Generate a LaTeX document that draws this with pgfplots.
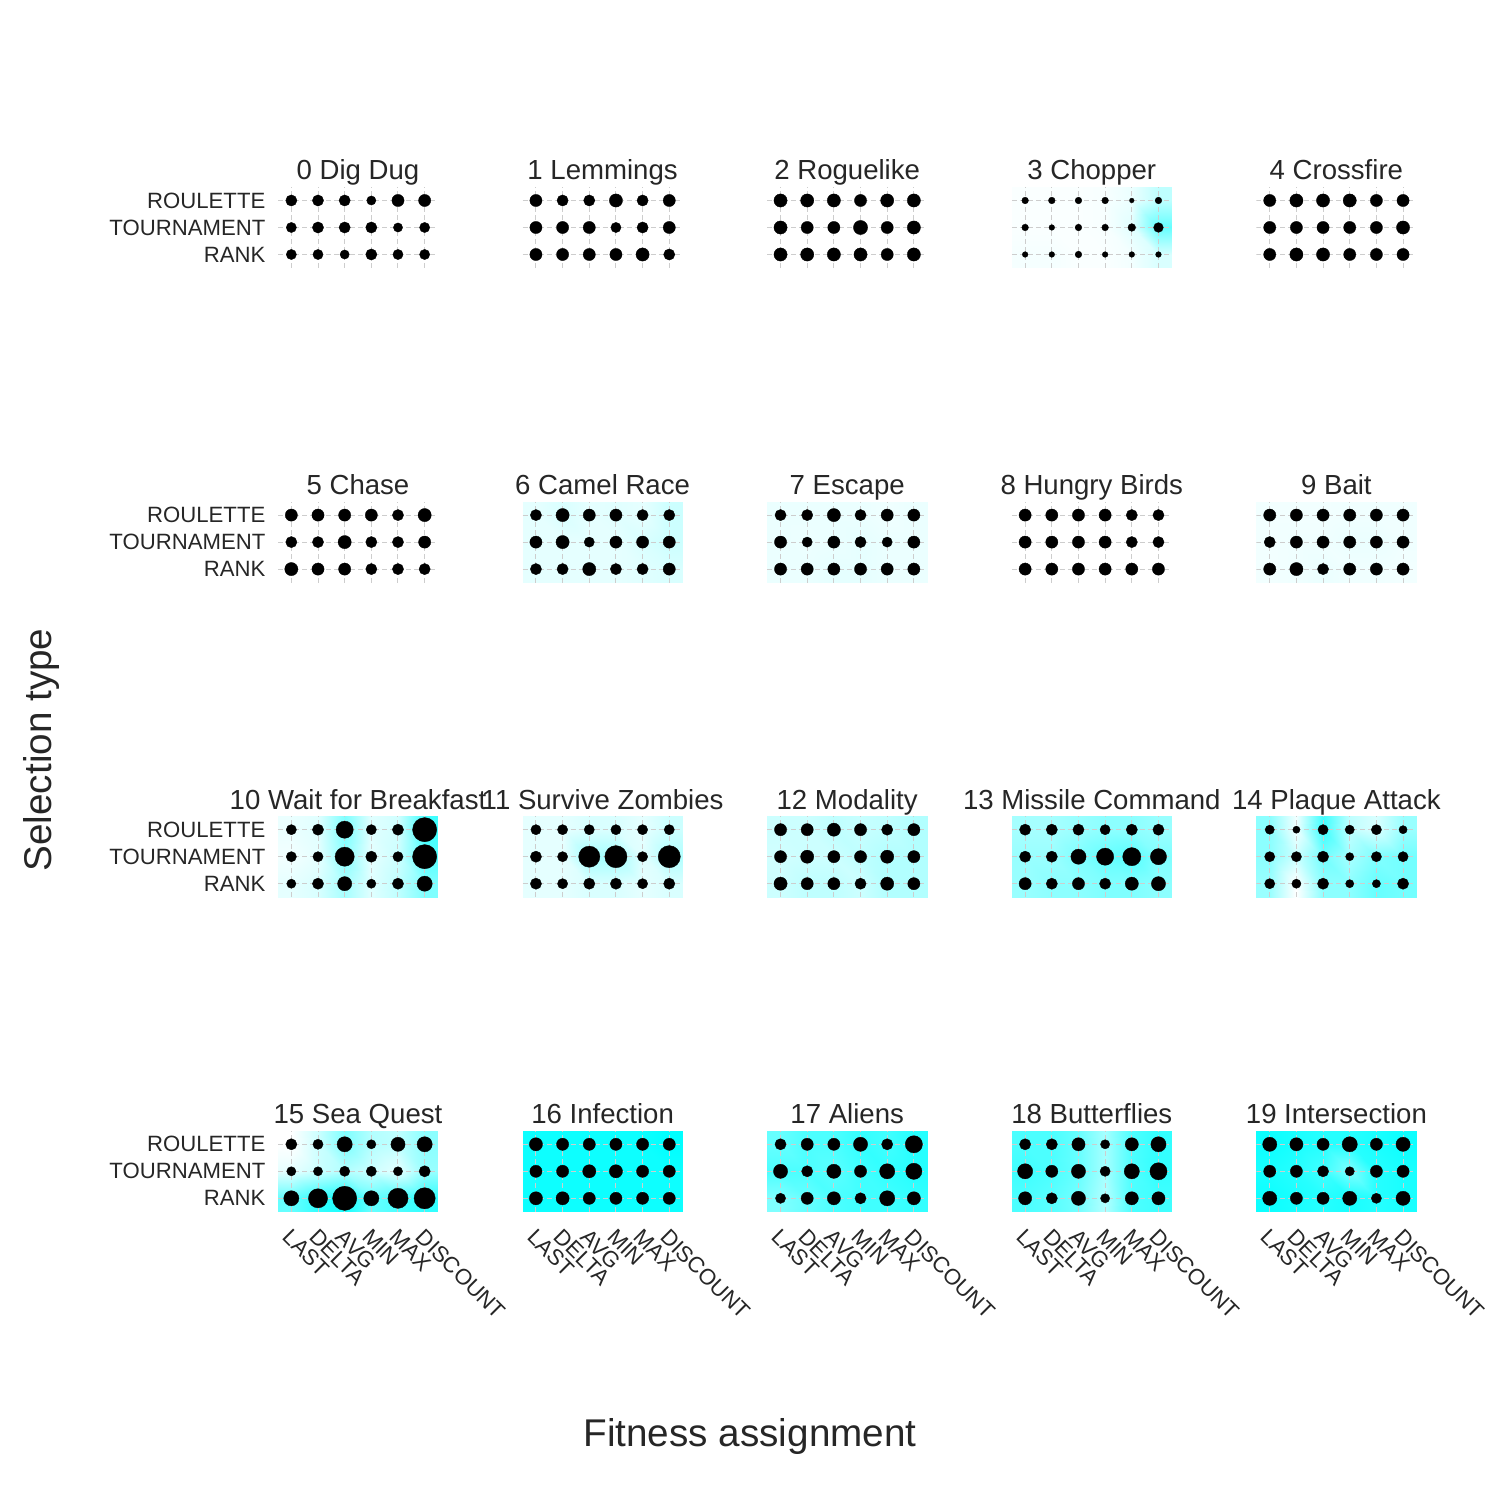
\documentclass[border=0pt]{standalone}
\usepackage{fontspec}
\setmainfont{Liberation Sans}
\usepackage{pgfplots}
\usepackage{pgfplotstable}
\pgfplotsset{compat=1.18}
\definecolor{txt}{RGB}{38,38,38}
\definecolor{gridc}{RGB}{205,205,205}
\pgfplotsset{colormap={wc}{rgb255=(255,255,255) rgb255=(0,255,255)}}
\newcommand\tickfont{\fontsize{6.3}{7.5}\selectfont}
\newcommand\titlefont{\fontsize{7.85}{9.4}\selectfont}
\newcommand\labfont{\fontsize{11}{13}\selectfont}

% ---------- dot sizes : x=fitness (0 LAST..5 DISCOUNT), y=selection (0 RANK,1 TOURNAMENT,2 ROULETTE)
\pgfplotstableread[row sep=\\]{x y s\\
0 2 9\\1 2 9\\2 2 9\\3 2 7\\4 2 10\\5 2 10\\
0 1 8\\1 1 9\\2 1 9\\3 1 9\\4 1 7\\5 1 8\\
0 0 8\\1 0 8\\2 0 7\\3 0 9\\4 0 8\\5 0 8\\
}\dpA
\pgfplotstableread[row sep=\\]{x y s\\
0 2 10\\1 2 9\\2 2 9\\3 2 11\\4 2 9\\5 2 10\\
0 1 10\\1 1 10\\2 1 10\\3 1 8\\4 1 9\\5 1 10\\
0 0 10\\1 0 10\\2 0 10\\3 0 10\\4 0 11\\5 0 9\\
}\dpB
\pgfplotstableread[row sep=\\]{x y s\\
0 2 11\\1 2 11\\2 2 11\\3 2 10\\4 2 11\\5 2 11\\
0 1 11\\1 1 10\\2 1 10\\3 1 12\\4 1 10\\5 1 11\\
0 0 11\\1 0 11\\2 0 11\\3 0 11\\4 0 10\\5 0 11\\
}\dpC
\pgfplotstableread[row sep=\\]{x y s\\
0 2 4.5\\1 2 4.5\\2 2 4.5\\3 2 4.5\\4 2 2.5\\5 2 4.5\\
0 1 4.5\\1 1 3.5\\2 1 4.5\\3 1 4.5\\4 1 5.5\\5 1 7.5\\
0 0 3.5\\1 0 3.5\\2 0 4.5\\3 0 3.5\\4 0 3.5\\5 0 3.5\\
}\dpD
\pgfplotstableread[row sep=\\]{x y s\\
0 2 10\\1 2 11\\2 2 11\\3 2 11\\4 2 10\\5 2 10\\
0 1 10\\1 1 10\\2 1 10\\3 1 10\\4 1 10\\5 1 11\\
0 0 10\\1 0 11\\2 0 11\\3 0 10\\4 0 10\\5 0 10\\
}\dpE
\pgfplotstableread[row sep=\\]{x y s\\
0 2 10\\1 2 10\\2 2 10\\3 2 10\\4 2 9\\5 2 11\\
0 1 9\\1 1 9\\2 1 11\\3 1 9\\4 1 9\\5 1 10\\
0 0 11\\1 0 10\\2 0 10\\3 0 9\\4 0 9\\5 0 9\\
}\dpF
\pgfplotstableread[row sep=\\]{x y s\\
0 2 9\\1 2 11\\2 2 10\\3 2 10\\4 2 9\\5 2 9\\
0 1 10\\1 1 11\\2 1 8\\3 1 10\\4 1 10\\5 1 10\\
0 0 9\\1 0 9\\2 0 11\\3 0 9\\4 0 9\\5 0 10\\
}\dpG
\pgfplotstableread[row sep=\\]{x y s\\
0 2 9\\1 2 9\\2 2 11\\3 2 9\\4 2 10\\5 2 10\\
0 1 10\\1 1 8\\2 1 10\\3 1 9\\4 1 8\\5 1 10\\
0 0 10\\1 0 10\\2 0 10\\3 0 10\\4 0 10\\5 0 10\\
}\dpH
\pgfplotstableread[row sep=\\]{x y s\\
0 2 10\\1 2 10\\2 2 10\\3 2 10\\4 2 9\\5 2 9\\
0 1 10\\1 1 10\\2 1 10\\3 1 10\\4 1 9\\5 1 9\\
0 0 10\\1 0 10\\2 0 10\\3 0 10\\4 0 10\\5 0 10\\
}\dpI
\pgfplotstableread[row sep=\\]{x y s\\
0 2 10\\1 2 10\\2 2 10\\3 2 10\\4 2 10\\5 2 10\\
0 1 9\\1 1 10\\2 1 10\\3 1 10\\4 1 10\\5 1 10\\
0 0 10\\1 0 11\\2 0 9\\3 0 10\\4 0 10\\5 0 10\\
}\dpJ
\pgfplotstableread[row sep=\\]{x y s\\
0 2 8\\1 2 9\\2 2 15\\3 2 8\\4 2 9\\5 2 22\\
0 1 8\\1 1 8\\2 1 17\\3 1 9\\4 1 8\\5 1 22\\
0 0 7\\1 0 9\\2 0 12\\3 0 7\\4 0 9\\5 0 13\\
}\dpK
\pgfplotstableread[row sep=\\]{x y s\\
0 2 8\\1 2 8\\2 2 8\\3 2 8\\4 2 8\\5 2 8\\
0 1 9\\1 1 8\\2 1 19\\3 1 20\\4 1 8\\5 1 20\\
0 0 9\\1 0 8\\2 0 9\\3 0 9\\4 0 8\\5 0 9\\
}\dpL
\pgfplotstableread[row sep=\\]{x y s\\
0 2 10\\1 2 10\\2 2 11\\3 2 10\\4 2 9\\5 2 10\\
0 1 10\\1 1 11\\2 1 10\\3 1 10\\4 1 11\\5 1 10\\
0 0 11\\1 0 10\\2 0 10\\3 0 9\\4 0 11\\5 0 10\\
}\dpM
\pgfplotstableread[row sep=\\]{x y s\\
0 2 9\\1 2 9\\2 2 9\\3 2 8\\4 2 9\\5 2 9\\
0 1 9\\1 1 9\\2 1 13\\3 1 15\\4 1 16\\5 1 14\\
0 0 10\\1 0 9\\2 0 10\\3 0 9\\4 0 11\\5 0 12\\
}\dpN
\pgfplotstableread[row sep=\\]{x y s\\
0 2 7\\1 2 5\\2 2 8\\3 2 7\\4 2 8\\5 2 6\\
0 1 8\\1 1 8\\2 1 9\\3 1 6\\4 1 8\\5 1 8\\
0 0 8\\1 0 7\\2 0 9\\3 0 6\\4 0 6\\5 0 9\\
}\dpO
\pgfplotstableread[row sep=\\]{x y s\\
0 2 9\\1 2 8\\2 2 13\\3 2 7\\4 2 12\\5 2 13\\
0 1 7\\1 1 7\\2 1 8\\3 1 8\\4 1 7\\5 1 9\\
0 0 13\\1 0 17\\2 0 22\\3 0 13\\4 0 18\\5 0 19\\
}\dpP
\pgfplotstableread[row sep=\\]{x y s\\
0 2 11\\1 2 10\\2 2 10\\3 2 10\\4 2 10\\5 2 10\\
0 1 10\\1 1 10\\2 1 11\\3 1 11\\4 1 10\\5 1 10\\
0 0 11\\1 0 11\\2 0 10\\3 0 10\\4 0 10\\5 0 10\\
}\dpQ
\pgfplotstableread[row sep=\\]{x y s\\
0 2 9\\1 2 10\\2 2 10\\3 2 12\\4 2 9\\5 2 15\\
0 1 12\\1 1 9\\2 1 12\\3 1 10\\4 1 13\\5 1 14\\
0 0 8\\1 0 10\\2 0 11\\3 0 9\\4 0 13\\5 0 11\\
}\dpR
\pgfplotstableread[row sep=\\]{x y s\\
0 2 9\\1 2 9\\2 2 11\\3 2 7\\4 2 11\\5 2 13\\
0 1 13\\1 1 10\\2 1 12\\3 1 8\\4 1 13\\5 1 15\\
0 0 11\\1 0 9\\2 0 12\\3 0 7\\4 0 11\\5 0 11\\
}\dpS
\pgfplotstableread[row sep=\\]{x y s\\
0 2 12\\1 2 11\\2 2 10\\3 2 13\\4 2 10\\5 2 12\\
0 1 10\\1 1 10\\2 1 9\\3 1 7\\4 1 10\\5 1 10\\
0 0 12\\1 0 10\\2 0 10\\3 0 12\\4 0 8\\5 0 12\\
}\dpT

% ---------- background intensity (0 white .. 1 cyan), grid extended by half a cell
\pgfplotstableread[row sep=\\]{x y c\\
-0.5 -0.5 .04\\0 -0.5 .04\\1 -0.5 .04\\2 -0.5 .02\\3 -0.5 .02\\4 -0.5 .05\\5 -0.5 .15\\5.5 -0.5 .15\\
-0.5 0 .04\\0 0 .04\\1 0 .04\\2 0 .02\\3 0 .02\\4 0 .05\\5 0 .15\\5.5 0 .15\\
-0.5 1 .02\\0 1 .02\\1 1 .02\\2 1 .02\\3 1 .03\\4 1 .12\\5 1 .6\\5.5 1 .6\\
-0.5 2 .02\\0 2 .02\\1 2 .02\\2 2 .02\\3 2 .03\\4 2 .08\\5 2 .25\\5.5 2 .25\\
-0.5 2.5 .02\\0 2.5 .02\\1 2.5 .02\\2 2.5 .02\\3 2.5 .03\\4 2.5 .08\\5 2.5 .25\\5.5 2.5 .25\\
}\bgD
\pgfplotstableread[row sep=\\]{x y c\\
-0.5 -0.5 .1\\0 -0.5 .1\\1 -0.5 .1\\2 -0.5 .1\\3 -0.5 .1\\4 -0.5 .12\\5 -0.5 .15\\5.5 -0.5 .15\\
-0.5 0 .1\\0 0 .1\\1 0 .1\\2 0 .1\\3 0 .1\\4 0 .12\\5 0 .15\\5.5 0 .15\\
-0.5 1 .1\\0 1 .1\\1 1 .1\\2 1 .1\\3 1 .1\\4 1 .15\\5 1 .2\\5.5 1 .2\\
-0.5 2 .1\\0 2 .1\\1 2 .15\\2 2 .1\\3 2 .12\\4 2 .1\\5 2 .2\\5.5 2 .2\\
-0.5 2.5 .1\\0 2.5 .1\\1 2.5 .15\\2 2.5 .1\\3 2.5 .12\\4 2.5 .1\\5 2.5 .2\\5.5 2.5 .2\\
}\bgG
\pgfplotstableread[row sep=\\]{x y c\\
-0.5 -0.5 .08\\0 -0.5 .08\\1 -0.5 .08\\2 -0.5 .1\\3 -0.5 .1\\4 -0.5 .08\\5 -0.5 .08\\5.5 -0.5 .08\\
-0.5 0 .08\\0 0 .08\\1 0 .08\\2 0 .1\\3 0 .1\\4 0 .08\\5 0 .08\\5.5 0 .08\\
-0.5 1 .08\\0 1 .08\\1 1 .07\\2 1 .08\\3 1 .1\\4 1 .08\\5 1 .08\\5.5 1 .08\\
-0.5 2 .08\\0 2 .08\\1 2 .08\\2 2 .08\\3 2 .08\\4 2 .06\\5 2 .08\\5.5 2 .08\\
-0.5 2.5 .08\\0 2.5 .08\\1 2.5 .08\\2 2.5 .08\\3 2.5 .08\\4 2.5 .06\\5 2.5 .08\\5.5 2.5 .08\\
}\bgH
\pgfplotstableread[row sep=\\]{x y c\\
-0.5 -0.5 .05\\0 -0.5 .05\\1 -0.5 .06\\2 -0.5 .08\\3 -0.5 .06\\4 -0.5 .06\\5 -0.5 .05\\5.5 -0.5 .05\\
-0.5 0 .05\\0 0 .05\\1 0 .06\\2 0 .08\\3 0 .06\\4 0 .06\\5 0 .05\\5.5 0 .05\\
-0.5 1 .05\\0 1 .05\\1 1 .06\\2 1 .06\\3 1 .08\\4 1 .08\\5 1 .06\\5.5 1 .06\\
-0.5 2 .05\\0 2 .05\\1 2 .05\\2 2 .05\\3 2 .06\\4 2 .06\\5 2 .06\\5.5 2 .06\\
-0.5 2.5 .05\\0 2.5 .05\\1 2.5 .05\\2 2.5 .05\\3 2.5 .06\\4 2.5 .06\\5 2.5 .06\\5.5 2.5 .06\\
}\bgJ
\pgfplotstableread[row sep=\\]{x y c\\
-0.5 -0.5 .1\\0 -0.5 .1\\1 -0.5 .15\\2 -0.5 .35\\3 -0.5 .12\\4 -0.5 .25\\5 -0.5 .5\\5.5 -0.5 .5\\
-0.5 0 .1\\0 0 .1\\1 0 .15\\2 0 .35\\3 0 .12\\4 0 .25\\5 0 .5\\5.5 0 .5\\
-0.5 1 .05\\0 1 .05\\1 1 .1\\2 1 .45\\3 1 .1\\4 1 .2\\5 1 .65\\5.5 1 .65\\
-0.5 2 .08\\0 2 .08\\1 2 .12\\2 2 .5\\3 2 .12\\4 2 .18\\5 2 .75\\5.5 2 .75\\
-0.5 2.5 .08\\0 2.5 .08\\1 2.5 .12\\2 2.5 .5\\3 2.5 .12\\4 2.5 .18\\5 2.5 .75\\5.5 2.5 .75\\
}\bgK
\pgfplotstableread[row sep=\\]{x y c\\
-0.5 -0.5 .1\\0 -0.5 .1\\1 -0.5 .1\\2 -0.5 .15\\3 -0.5 .15\\4 -0.5 .1\\5 -0.5 .15\\5.5 -0.5 .15\\
-0.5 0 .1\\0 0 .1\\1 0 .1\\2 0 .15\\3 0 .15\\4 0 .1\\5 0 .15\\5.5 0 .15\\
-0.5 1 .1\\0 1 .1\\1 1 .1\\2 1 .35\\3 1 .35\\4 1 .12\\5 1 .3\\5.5 1 .3\\
-0.5 2 .1\\0 2 .1\\1 2 .1\\2 2 .15\\3 2 .15\\4 2 .1\\5 2 .2\\5.5 2 .2\\
-0.5 2.5 .1\\0 2.5 .1\\1 2.5 .1\\2 2.5 .15\\3 2.5 .15\\4 2.5 .1\\5 2.5 .2\\5.5 2.5 .2\\
}\bgL
\pgfplotstableread[row sep=\\]{x y c\\
-0.5 -0.5 .2\\0 -0.5 .2\\1 -0.5 .25\\2 -0.5 .25\\3 -0.5 .2\\4 -0.5 .3\\5 -0.5 .3\\5.5 -0.5 .3\\
-0.5 0 .2\\0 0 .2\\1 0 .25\\2 0 .25\\3 0 .2\\4 0 .3\\5 0 .3\\5.5 0 .3\\
-0.5 1 .18\\0 1 .18\\1 1 .2\\2 1 .2\\3 1 .25\\4 1 .3\\5 1 .3\\5.5 1 .3\\
-0.5 2 .2\\0 2 .2\\1 2 .2\\2 2 .25\\3 2 .22\\4 2 .25\\5 2 .3\\5.5 2 .3\\
-0.5 2.5 .2\\0 2.5 .2\\1 2.5 .2\\2 2.5 .25\\3 2.5 .22\\4 2.5 .25\\5 2.5 .3\\5.5 2.5 .3\\
}\bgM
\pgfplotstableread[row sep=\\]{x y c\\
-0.5 -0.5 .4\\0 -0.5 .4\\1 -0.5 .45\\2 -0.5 .45\\3 -0.5 .5\\4 -0.5 .5\\5 -0.5 .45\\5.5 -0.5 .45\\
-0.5 0 .4\\0 0 .4\\1 0 .45\\2 0 .45\\3 0 .5\\4 0 .5\\5 0 .45\\5.5 0 .45\\
-0.5 1 .4\\0 1 .4\\1 1 .4\\2 1 .5\\3 1 .6\\4 1 .65\\5 1 .5\\5.5 1 .5\\
-0.5 2 .35\\0 2 .35\\1 2 .35\\2 2 .4\\3 2 .45\\4 2 .45\\5 2 .4\\5.5 2 .4\\
-0.5 2.5 .35\\0 2.5 .35\\1 2.5 .35\\2 2.5 .4\\3 2.5 .45\\4 2.5 .45\\5 2.5 .4\\5.5 2.5 .4\\
}\bgN
\pgfplotstableread[row sep=\\]{x y c\\
-0.5 -0.5 .4\\0 -0.5 .4\\1 -0.5 0\\2 -0.5 .45\\3 -0.5 .45\\4 -0.5 .6\\5 -0.5 .55\\5.5 -0.5 .55\\
-0.5 0 .4\\0 0 .4\\1 0 0\\2 0 .45\\3 0 .45\\4 0 .6\\5 0 .55\\5.5 0 .55\\
-0.5 1 .45\\0 1 .45\\1 1 .2\\2 1 .55\\3 1 .35\\4 1 .5\\5 1 .55\\5.5 1 .55\\
-0.5 2 .45\\0 2 .45\\1 2 .05\\2 2 .75\\3 2 .25\\4 2 .15\\5 2 .4\\5.5 2 .4\\
-0.5 2.5 .45\\0 2.5 .45\\1 2.5 .05\\2 2.5 .75\\3 2.5 .25\\4 2.5 .15\\5 2.5 .4\\5.5 2.5 .4\\
}\bgO
\pgfplotstableread[row sep=\\]{x y c\\
-0.5 -0.5 .6\\0 -0.5 .6\\1 -0.5 .8\\2 -0.5 .9\\3 -0.5 .6\\4 -0.5 .7\\5 -0.5 .8\\5.5 -0.5 .8\\
-0.5 0 .6\\0 0 .6\\1 0 .8\\2 0 .9\\3 0 .6\\4 0 .7\\5 0 .8\\5.5 0 .8\\
-0.5 1 .1\\0 1 .1\\1 1 .2\\2 1 .3\\3 1 .2\\4 1 .1\\5 1 .4\\5.5 1 .4\\
-0.5 2 0\\0 2 0\\1 2 .2\\2 2 .5\\3 2 .3\\4 2 .25\\5 2 .45\\5.5 2 .45\\
-0.5 2.5 0\\0 2.5 0\\1 2.5 .2\\2 2.5 .5\\3 2.5 .3\\4 2.5 .25\\5 2.5 .45\\5.5 2.5 .45\\
}\bgP
\pgfplotstableread[row sep=\\]{x y c\\
-0.5 -0.5 .95\\0 -0.5 .95\\1 -0.5 .95\\2 -0.5 .95\\3 -0.5 .95\\4 -0.5 .95\\5 -0.5 .95\\5.5 -0.5 .95\\
-0.5 0 .95\\0 0 .95\\1 0 .95\\2 0 .95\\3 0 .95\\4 0 .95\\5 0 .95\\5.5 0 .95\\
-0.5 1 .95\\0 1 .95\\1 1 .95\\2 1 .95\\3 1 .95\\4 1 .95\\5 1 .95\\5.5 1 .95\\
-0.5 2 .95\\0 2 .95\\1 2 .95\\2 2 .95\\3 2 .95\\4 2 .95\\5 2 1\\5.5 2 1\\
-0.5 2.5 .95\\0 2.5 .95\\1 2.5 .95\\2 2.5 .95\\3 2.5 .95\\4 2.5 .95\\5 2.5 1\\5.5 2.5 1\\
}\bgQ
\pgfplotstableread[row sep=\\]{x y c\\
-0.5 -0.5 .5\\0 -0.5 .5\\1 -0.5 .6\\2 -0.5 .7\\3 -0.5 .75\\4 -0.5 .75\\5 -0.5 .8\\5.5 -0.5 .8\\
-0.5 0 .5\\0 0 .5\\1 0 .6\\2 0 .7\\3 0 .75\\4 0 .75\\5 0 .8\\5.5 0 .8\\
-0.5 1 .7\\0 1 .7\\1 1 .7\\2 1 .65\\3 1 .75\\4 1 .8\\5 1 .85\\5.5 1 .85\\
-0.5 2 .6\\0 2 .6\\1 2 .7\\2 2 .7\\3 2 .8\\4 2 .75\\5 2 .85\\5.5 2 .85\\
-0.5 2.5 .6\\0 2.5 .6\\1 2.5 .7\\2 2.5 .7\\3 2.5 .8\\4 2.5 .75\\5 2.5 .85\\5.5 2.5 .85\\
}\bgR
\pgfplotstableread[row sep=\\]{x y c\\
-0.5 -0.5 .7\\0 -0.5 .7\\1 -0.5 .65\\2 -0.5 .55\\3 -0.5 .3\\4 -0.5 .7\\5 -0.5 .75\\5.5 -0.5 .75\\
-0.5 0 .7\\0 0 .7\\1 0 .65\\2 0 .55\\3 0 .3\\4 0 .7\\5 0 .75\\5.5 0 .75\\
-0.5 1 .75\\0 1 .75\\1 1 .7\\2 1 .6\\3 1 .35\\4 1 .7\\5 1 .8\\5.5 1 .8\\
-0.5 2 .7\\0 2 .7\\1 2 .7\\2 2 .6\\3 2 .35\\4 2 .7\\5 2 .8\\5.5 2 .8\\
-0.5 2.5 .7\\0 2.5 .7\\1 2.5 .7\\2 2.5 .6\\3 2.5 .35\\4 2.5 .7\\5 2.5 .8\\5.5 2.5 .8\\
}\bgS
\pgfplotstableread[row sep=\\]{x y c\\
-0.5 -0.5 .95\\0 -0.5 .95\\1 -0.5 .9\\2 -0.5 .85\\3 -0.5 .9\\4 -0.5 .85\\5 -0.5 .9\\5.5 -0.5 .9\\
-0.5 0 .95\\0 0 .95\\1 0 .9\\2 0 .85\\3 0 .9\\4 0 .85\\5 0 .9\\5.5 0 .9\\
-0.5 1 .9\\0 1 .9\\1 1 .85\\2 1 .75\\3 1 .5\\4 1 .85\\5 1 .9\\5.5 1 .9\\
-0.5 2 .95\\0 2 .95\\1 2 .9\\2 2 .85\\3 2 .85\\4 2 .9\\5 2 .95\\5.5 2 .95\\
-0.5 2.5 .95\\0 2.5 .95\\1 2.5 .9\\2 2.5 .85\\3 2.5 .85\\4 2.5 .9\\5 2.5 .95\\5.5 2.5 .95\\
}\bgT

\pgfplotsset{
 panel/.style={
  scale only axis, width=16mm, height=8.1mm, anchor=center,
  xmin=-0.5, xmax=5.5, ymin=-0.5, ymax=2.5,
  xtick={0,1,2,3,4,5}, ytick={0,1,2},
  xticklabels={}, yticklabels={},
  axis line style={draw=none},
  major tick length=0pt,
  tick style={draw=none},
  colormap name=wc, point meta min=0, point meta max=1,
  title style={font=\titlefont, text=txt, at={(0.5,1)}, anchor=base, yshift=-1.4mm, inner sep=0pt},
  tick label style={font=\tickfont, text=txt},
 },
 ylabs/.style={yticklabels={RANK,TOURNAMENT,ROULETTE}, yticklabel style={anchor=east, inner sep=0pt, xshift=-1.2mm}},
 xlabs/.style={xticklabels={LAST,DELTA,AVG,MIN,MAX,DISCOUNT}, xticklabel style={inner sep=0pt, xshift=0.1mm, yshift=-1.5mm, rotate=-45, anchor=north west}},
 dots/.style={scatter, only marks, mark=*, scatter/use mapped color={draw=black, fill=black},
   visualization depends on={\thisrow{s} \as \ms},
   scatter/@pre marker code/.append style={/tikz/mark size=0.05mm*(\ms+2.2)}, line width=0.1pt},
 bg/.style={surf, shader=interp, mesh/cols=8, point meta=\thisrow{c}},
 gridl/.style={draw=gridc, line width=0.1mm, dash pattern=on 0.5mm off 0.3mm, mark=none, forget plot},
}
\newcommand\gridlines{%
\pgfplotsinvokeforeach{0,1,2,3,4,5}{\addplot[gridl] coordinates {(##1,-0.5) (##1,2.5)};}%
\pgfplotsinvokeforeach{0,1,2}{\addplot[gridl] coordinates {(-0.5,##1) (5.5,##1)};}%
}

\begin{document}
\begin{tikzpicture}
\path (0mm,0mm) rectangle (150mm,150mm);

% row 1
\begin{axis}[panel, ylabs, at={(35.8mm,127.25mm)}, title={0 Dig Dug}]
\gridlines
\addplot[dots] table {\dpA};
\end{axis}
\begin{axis}[panel, at={(60.26mm,127.25mm)}, title={1 Lemmings}]
\gridlines
\addplot[dots] table {\dpB};
\end{axis}
\begin{axis}[panel, at={(84.72mm,127.25mm)}, title={2 Roguelike}]
\gridlines
\addplot[dots] table {\dpC};
\end{axis}
\begin{axis}[panel, at={(109.18mm,127.25mm)}, title={3 Chopper}]
\addplot[bg] table {\bgD};
\gridlines
\addplot[dots] table {\dpD};
\end{axis}
\begin{axis}[panel, at={(133.64mm,127.25mm)}, title={4 Crossfire}]
\gridlines
\addplot[dots] table {\dpE};
\end{axis}

% row 2
\begin{axis}[panel, ylabs, at={(35.8mm,95.79mm)}, title={5 Chase}]
\gridlines
\addplot[dots] table {\dpF};
\end{axis}
\begin{axis}[panel, at={(60.26mm,95.79mm)}, title={6 Camel Race}]
\addplot[bg] table {\bgG};
\gridlines
\addplot[dots] table {\dpG};
\end{axis}
\begin{axis}[panel, at={(84.72mm,95.79mm)}, title={7 Escape}]
\addplot[bg] table {\bgH};
\gridlines
\addplot[dots] table {\dpH};
\end{axis}
\begin{axis}[panel, at={(109.18mm,95.79mm)}, title={8 Hungry Birds}]
\gridlines
\addplot[dots] table {\dpI};
\end{axis}
\begin{axis}[panel, at={(133.64mm,95.79mm)}, title={9 Bait}]
\addplot[bg] table {\bgJ};
\gridlines
\addplot[dots] table {\dpJ};
\end{axis}

% row 3
\begin{axis}[panel, ylabs, at={(35.8mm,64.33mm)}, title={10 Wait for Breakfast}]
\addplot[bg] table {\bgK};
\gridlines
\addplot[dots] table {\dpK};
\end{axis}
\begin{axis}[panel, at={(60.26mm,64.33mm)}, title={11 Survive Zombies}]
\addplot[bg] table {\bgL};
\gridlines
\addplot[dots] table {\dpL};
\end{axis}
\begin{axis}[panel, at={(84.72mm,64.33mm)}, title={12 Modality}]
\addplot[bg] table {\bgM};
\gridlines
\addplot[dots] table {\dpM};
\end{axis}
\begin{axis}[panel, at={(109.18mm,64.33mm)}, title={13 Missile Command}]
\addplot[bg] table {\bgN};
\gridlines
\addplot[dots] table {\dpN};
\end{axis}
\begin{axis}[panel, at={(133.64mm,64.33mm)}, title={14 Plaque Attack}]
\addplot[bg] table {\bgO};
\gridlines
\addplot[dots] table {\dpO};
\end{axis}

% row 4
\begin{axis}[panel, ylabs, xlabs, at={(35.8mm,32.87mm)}, title={15 Sea Quest}]
\addplot[bg] table {\bgP};
\gridlines
\addplot[dots] table {\dpP};
\end{axis}
\begin{axis}[panel, xlabs, at={(60.26mm,32.87mm)}, title={16 Infection}]
\addplot[bg] table {\bgQ};
\gridlines
\addplot[dots] table {\dpQ};
\end{axis}
\begin{axis}[panel, xlabs, at={(84.72mm,32.87mm)}, title={17 Aliens}]
\addplot[bg] table {\bgR};
\gridlines
\addplot[dots] table {\dpR};
\end{axis}
\begin{axis}[panel, xlabs, at={(109.18mm,32.87mm)}, title={18 Butterflies}]
\addplot[bg] table {\bgS};
\gridlines
\addplot[dots] table {\dpS};
\end{axis}
\begin{axis}[panel, xlabs, at={(133.64mm,32.87mm)}, title={19 Intersection}]
\addplot[bg] table {\bgT};
\gridlines
\addplot[dots] table {\dpT};
\end{axis}

\node[font=\labfont, text=txt, rotate=90] at (4.2mm,75mm) {Selection type};
\node[font=\labfont, text=txt] at (75mm,6.3mm) {Fitness assignment};
\end{tikzpicture}
\end{document}
